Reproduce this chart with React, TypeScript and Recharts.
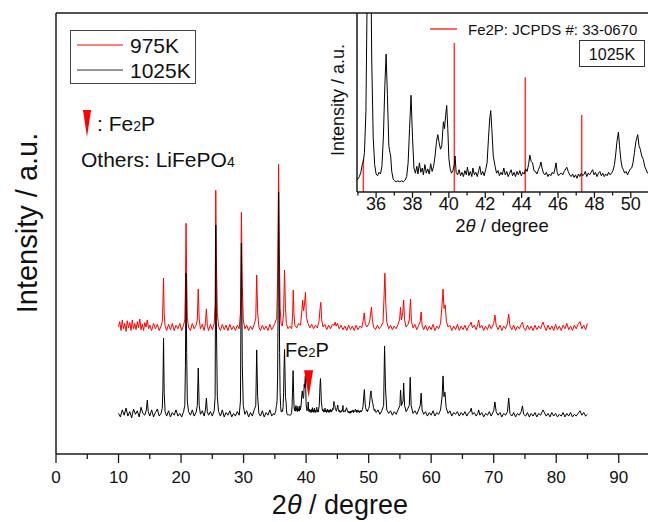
import { LineChart, Line, XAxis, YAxis, ReferenceLine, ReferenceDot } from "recharts";

// 2theta (deg), intensity (a.u.)
const K975: [number, number][] = [
  [10.0, 88], [10.2, 100], [10.4, 80], [10.6, 104], [10.8, 84], [11.0, 96], [11.2, 78], [11.4, 102], [11.6, 86], [11.8, 98],
  [12.0, 80], [12.2, 104], [12.4, 84], [12.6, 96], [12.8, 82], [13.0, 100], [13.2, 86], [13.4, 106], [13.6, 82], [13.8, 94],
  [14.0, 80], [14.2, 98], [14.4, 88], [14.6, 104], [14.8, 84], [15.0, 92], [15.3, 80], [15.6, 96], [15.9, 84], [16.2, 94],
  [16.5, 80], [16.8, 90], [17.0, 100], [17.1, 140], [17.2, 199], [17.3, 120], [17.45, 90], [17.7, 80], [18.0, 94], [18.3, 82],
  [18.6, 96], [18.9, 80], [19.2, 92], [19.5, 84], [19.8, 96], [20.1, 80], [20.4, 92], [20.6, 104], [20.7, 180], [20.8, 323],
  [20.9, 200], [21.0, 110], [21.2, 88], [21.5, 80], [21.8, 96], [22.1, 84], [22.4, 92], [22.6, 104], [22.75, 174], [22.9, 106],
  [23.1, 84], [23.4, 94], [23.7, 80], [23.9, 96], [24.05, 129], [24.2, 92], [24.4, 80], [24.7, 94], [25.0, 82], [25.3, 96],
  [25.45, 140], [25.55, 398], [25.65, 240], [25.8, 120], [26.0, 90], [26.3, 80], [26.6, 94], [26.9, 82], [27.2, 92], [27.5, 80],
  [27.8, 94], [28.1, 82], [28.4, 90], [28.7, 80], [29.0, 92], [29.3, 84], [29.5, 120], [29.65, 348], [29.8, 180], [29.95, 104],
  [30.2, 84], [30.5, 92], [30.8, 80], [31.1, 90], [31.4, 82], [31.7, 94], [31.95, 108], [32.1, 206], [32.25, 120], [32.45, 88],
  [32.7, 80], [33.0, 92], [33.3, 82], [33.6, 90], [33.9, 80], [34.2, 94], [34.5, 82], [34.8, 90], [35.0, 96], [35.3, 108],
  [35.45, 200], [35.6, 457], [35.72, 260], [35.85, 130], [36.0, 96], [36.2, 90], [36.4, 120], [36.55, 217], [36.7, 130], [36.85, 96],
  [37.1, 84], [37.4, 90], [37.7, 84], [37.85, 120], [37.95, 172], [38.05, 120], [38.2, 92], [38.5, 86], [38.8, 96], [39.1, 92],
  [39.3, 120], [39.45, 149], [39.6, 125], [39.75, 140], [39.9, 167], [40.05, 110], [40.3, 96], [40.6, 86], [40.9, 94], [41.2, 84],
  [41.5, 92], [41.8, 86], [42.05, 100], [42.2, 125], [42.35, 144], [42.5, 104], [42.7, 88], [43.0, 94], [43.3, 82], [43.6, 92],
  [43.9, 84], [44.2, 94], [44.5, 92], [44.65, 99], [44.8, 90], [45.0, 96], [45.3, 84], [45.6, 92], [45.9, 82], [46.2, 90],
  [46.5, 80], [46.8, 92], [47.1, 82], [47.4, 90], [47.7, 80], [48.0, 92], [48.3, 82], [48.6, 90], [48.9, 86], [49.1, 100],
  [49.3, 120], [49.45, 96], [49.7, 88], [50.0, 94], [50.2, 104], [50.45, 133], [50.6, 104], [50.8, 88], [51.1, 82], [51.4, 92],
  [51.7, 84], [52.0, 90], [52.3, 98], [52.45, 150], [52.6, 210], [52.75, 140], [52.9, 100], [53.2, 84], [53.5, 92], [53.8, 82],
  [54.1, 90], [54.4, 84], [54.7, 94], [54.95, 104], [55.1, 133], [55.25, 104], [55.45, 120], [55.6, 149], [55.75, 104], [56.0, 88],
  [56.3, 94], [56.5, 104], [56.7, 151], [56.85, 100], [57.1, 86], [57.4, 94], [57.7, 82], [58.0, 92], [58.25, 100], [58.4, 122],
  [58.55, 92], [58.8, 82], [59.1, 92], [59.4, 80], [59.7, 90], [60.0, 82], [60.3, 94], [60.6, 80], [60.9, 90], [61.2, 84],
  [61.5, 96], [61.75, 140], [61.9, 174], [62.05, 130], [62.25, 138], [62.45, 100], [62.7, 88], [63.0, 92], [63.3, 80], [63.6, 90],
  [63.9, 82], [64.2, 94], [64.5, 80], [64.8, 90], [65.1, 82], [65.4, 92], [65.7, 80], [66.0, 90], [66.25, 94], [66.4, 99],
  [66.6, 86], [66.9, 92], [67.2, 82], [67.45, 94], [67.6, 104], [67.8, 86], [68.1, 92], [68.4, 80], [68.7, 90], [69.0, 82],
  [69.3, 94], [69.6, 84], [70.0, 96], [70.2, 115], [70.4, 92], [70.7, 82], [71.0, 92], [71.3, 80], [71.6, 90], [71.9, 84],
  [72.2, 96], [72.4, 117], [72.6, 90], [72.9, 82], [73.2, 92], [73.5, 80], [73.8, 90], [74.1, 84], [74.4, 94], [74.6, 99],
  [74.8, 86], [75.1, 80], [75.4, 92], [75.7, 82], [76.0, 90], [76.3, 80], [76.6, 92], [76.9, 82], [77.2, 90], [77.5, 84],
  [77.75, 94], [77.9, 99], [78.1, 90], [78.4, 80], [78.7, 92], [79.0, 82], [79.3, 90], [79.6, 80], [79.9, 94], [80.2, 82],
  [80.5, 90], [80.8, 80], [81.1, 92], [81.4, 84], [81.7, 96], [82.0, 82], [82.3, 90], [82.6, 80], [82.9, 92], [83.2, 84],
  [83.5, 94], [83.8, 100], [84.1, 84], [84.4, 92], [84.7, 82], [85.0, 96],
];

const K1025: [number, number][] = [
  [10.0, 92], [10.3, 84], [10.6, 100], [10.9, 88], [11.2, 104], [11.5, 86], [11.8, 96], [12.1, 82], [12.4, 102], [12.7, 90],
  [13.0, 98], [13.3, 84], [13.6, 106], [13.9, 92], [14.2, 88], [14.45, 100], [14.6, 122], [14.75, 96], [15.0, 86], [15.3, 100],
  [15.6, 84], [15.9, 94], [16.2, 102], [16.5, 86], [16.8, 92], [17.0, 104], [17.1, 150], [17.2, 263], [17.3, 140], [17.45, 96],
  [17.7, 86], [18.0, 98], [18.3, 84], [18.6, 94], [18.9, 88], [19.2, 100], [19.5, 86], [19.8, 92], [20.1, 84], [20.4, 96],
  [20.6, 110], [20.7, 200], [20.8, 410], [20.9, 230], [21.0, 120], [21.2, 96], [21.5, 88], [21.8, 100], [22.1, 86], [22.4, 94],
  [22.6, 110], [22.75, 195], [22.9, 110], [23.1, 90], [23.4, 98], [23.7, 86], [23.9, 100], [24.05, 127], [24.2, 96], [24.4, 88],
  [24.7, 96], [25.0, 86], [25.3, 98], [25.45, 130], [25.55, 519], [25.65, 300], [25.8, 130], [26.0, 96], [26.3, 86], [26.6, 100],
  [26.9, 84], [27.2, 94], [27.5, 88], [27.8, 98], [28.1, 84], [28.4, 92], [28.7, 86], [29.0, 96], [29.3, 88], [29.5, 120],
  [29.65, 478], [29.8, 200], [29.95, 110], [30.2, 90], [30.5, 98], [30.8, 84], [31.1, 94], [31.4, 86], [31.7, 100], [31.95, 110],
  [32.1, 236], [32.25, 130], [32.45, 92], [32.7, 86], [33.0, 98], [33.3, 84], [33.6, 94], [33.9, 88], [34.2, 100], [34.5, 86],
  [34.8, 92], [34.9, 89], [35.0, 91], [35.08, 94], [35.16, 99], [35.24, 108], [35.3, 112], [35.36, 122], [35.44, 170], [35.52, 330],
  [35.6, 594], [35.68, 420], [35.76, 230], [35.84, 140], [35.92, 108], [36.0, 97], [36.08, 95], [36.16, 99], [36.24, 97], [36.32, 106],
  [36.4, 140], [36.48, 200], [36.55, 237], [36.62, 190], [36.7, 130], [36.76, 122], [36.8, 118], [36.86, 100], [36.94, 91], [37.02, 89],
  [37.1, 88], [37.2, 89], [37.3, 88], [37.4, 89], [37.5, 88], [37.6, 90], [37.68, 94], [37.76, 110], [37.84, 150], [37.92, 189],
  [38.0, 140], [38.08, 104], [38.16, 98], [38.24, 106], [38.3, 97], [38.38, 110], [38.46, 99], [38.54, 104], [38.6, 96], [38.68, 108],
  [38.76, 98], [38.84, 103], [38.92, 97], [39.0, 109], [39.08, 100], [39.16, 106], [39.24, 118], [39.32, 135], [39.39, 143], [39.46, 134],
  [39.54, 126], [39.61, 130], [39.7, 158], [39.76, 150], [39.82, 165], [39.88, 177], [39.94, 150], [40.0, 115], [40.07, 103], [40.14, 98],
  [40.22, 101], [40.3, 108], [40.34, 118], [40.4, 99], [40.48, 96], [40.56, 102], [40.64, 95], [40.72, 99], [40.8, 94], [40.88, 101],
  [40.96, 96], [41.02, 105], [41.1, 95], [41.18, 100], [41.26, 94], [41.32, 104], [41.4, 96], [41.48, 99], [41.56, 94], [41.64, 101],
  [41.7, 106], [41.78, 96], [41.86, 100], [41.94, 95], [42.02, 102], [42.1, 110], [42.18, 140], [42.24, 160], [42.3, 171], [42.36, 150],
  [42.44, 118], [42.54, 106], [42.62, 98], [42.7, 101], [42.78, 95], [42.86, 99], [42.94, 96], [43.02, 104], [43.1, 96], [43.18, 100],
  [43.26, 94], [43.34, 98], [43.42, 102], [43.5, 95], [43.58, 99], [43.66, 94], [43.74, 100], [43.82, 96], [43.9, 101], [43.98, 95],
  [44.06, 99], [44.14, 97], [44.22, 103], [44.3, 100], [44.38, 108], [44.45, 119], [44.52, 112], [44.6, 110], [44.68, 101], [44.76, 100],
  [44.84, 97], [44.92, 102], [45.0, 106], [45.06, 111], [45.12, 104], [45.2, 98], [45.28, 96], [45.36, 99], [45.44, 94], [45.52, 97],
  [45.6, 95], [45.68, 99], [45.76, 97], [45.84, 104], [45.89, 110], [45.95, 99], [46.02, 95], [46.1, 97], [46.18, 98], [46.26, 96],
  [46.34, 100], [46.42, 103], [46.48, 105], [46.56, 100], [46.64, 96], [46.72, 94], [46.8, 97], [46.88, 93], [46.96, 96], [47.04, 92],
  [47.12, 97], [47.2, 94], [47.28, 98], [47.36, 95], [47.44, 97], [47.5, 100], [47.58, 94], [47.66, 98], [47.74, 96], [47.82, 99],
  [47.9, 102], [47.98, 96], [48.06, 99], [48.14, 94], [48.22, 98], [48.3, 100], [48.38, 95], [48.46, 98], [48.54, 94], [48.62, 97],
  [48.7, 95], [48.78, 99], [48.86, 96], [48.94, 98], [49.02, 101], [49.1, 108], [49.16, 118], [49.24, 135], [49.32, 146], [49.38, 130],
  [49.45, 114], [49.52, 105], [49.59, 102], [49.66, 98], [49.74, 100], [49.82, 96], [49.9, 100], [49.98, 103], [50.05, 104], [50.12, 110],
  [50.2, 122], [50.28, 135], [50.38, 143], [50.45, 130], [50.52, 126], [50.6, 118], [50.69, 114], [50.76, 106], [50.84, 102], [50.92, 98],
  [51.0, 101], [51.1, 96], [51.2, 94], [51.5, 100],
  [51.8, 90], [52.1, 98], [52.4, 110], [52.55, 245], [52.7, 150], [52.9, 100], [53.2, 92], [53.5, 98], [53.8, 88], [54.1, 96],
  [54.4, 90], [54.7, 100], [55.0, 110], [55.1, 145], [55.25, 110], [55.5, 120], [55.6, 161], [55.75, 110], [56.0, 96], [56.3, 104],
  [56.5, 110], [56.65, 174], [56.8, 110], [57.1, 92], [57.4, 98], [57.7, 90], [58.0, 100], [58.25, 110], [58.4, 138], [58.55, 100],
  [58.8, 90], [59.1, 96], [59.4, 86], [59.7, 94], [60.0, 88], [60.3, 98], [60.6, 86], [60.9, 94], [61.2, 90], [61.5, 100],
  [61.75, 130], [61.9, 177], [62.05, 130], [62.2, 140], [62.4, 105], [62.7, 92], [63.0, 98], [63.3, 86], [63.6, 94], [63.9, 90],
  [64.2, 96], [64.5, 86], [64.8, 94], [65.1, 88], [65.4, 96], [65.7, 86], [66.0, 94], [66.25, 96], [66.4, 104], [66.6, 90],
  [66.9, 94], [67.2, 86], [67.45, 92], [67.6, 100], [67.8, 88], [68.1, 94], [68.4, 84], [68.7, 92], [69.0, 88], [69.3, 96],
  [69.6, 86], [70.0, 98], [70.2, 118], [70.4, 96], [70.7, 88], [71.0, 94], [71.3, 84], [71.6, 92], [71.9, 88], [72.2, 96],
  [72.4, 127], [72.6, 92], [72.9, 86], [73.2, 94], [73.5, 84], [73.8, 92], [74.1, 88], [74.4, 96], [74.6, 109], [74.8, 90],
  [75.1, 86], [75.4, 94], [75.7, 84], [76.0, 92], [76.3, 86], [76.6, 94], [76.9, 84], [77.2, 92], [77.5, 88], [77.75, 96],
  [77.9, 100], [78.1, 94], [78.4, 86], [78.7, 92], [79.0, 84], [79.3, 94], [79.6, 86], [79.9, 92], [80.2, 84], [80.5, 90],
  [80.8, 86], [81.1, 94], [81.4, 84], [81.7, 92], [82.0, 86], [82.3, 94], [82.6, 84], [82.9, 90], [83.2, 86], [83.5, 92],
  [83.8, 98], [84.1, 88], [84.4, 94], [84.7, 86], [85.0, 90],
];

// red curve is shifted up for display
const K975_OFFSET = 200;

// Fe2P reference lines, JCPDS 33-0670 (relative heights)
const FE2P_POS = [35.3, 40.3, 44.2, 47.3];
const FE2P_INT = [114, 250, 210, 166];

const MAIN_TICKS = [0, 5, 10, 15, 20, 25, 30, 35, 40, 45, 50, 55, 60, 65, 70, 75, 80, 85, 90, 95];
const INSET_TICKS = [35, 36, 37, 38, 39, 40, 41, 42, 43, 44, 45, 46, 47, 48, 49, 50, 51];

const FONT = "'Liberation Sans', Arial, sans-serif";
const RED = "#ff0000";
const AXIS = "#1a1a1a";

const red = K975.map(([x, y]) => ({ x, y: y + K975_OFFSET }));
const black = K1025.map(([x, y]) => ({ x, y }));

const makeTick = (every: number, majorLen: number, minorLen: number, fontSize: number, dy: number) => (props: any) => {
  const { x, y, payload } = props;
  const v = payload.value;
  const major = Math.abs(v / every - Math.round(v / every)) < 1e-6;
  return (
    <g>
      <line x1={x} x2={x} y1={y} y2={y + (major ? majorLen : minorLen)} stroke={AXIS} strokeWidth={1.3} />
      {major && (
        <text x={x} y={y + dy} textAnchor="middle" dominantBaseline="central" fontSize={fontSize} fontFamily={FONT} fill="#111">
          {v}
        </text>
      )}
    </g>
  );
};

const Triangle = (props: any) => {
  const { cx, cy } = props;
  return <path d={`M${cx - 4.5},${cy} L${cx + 4.5},${cy} L${cx},${cy + 27} Z`} fill={RED} />;
};

export default function App() {
  return (
    <div style={{ position: "fixed", left: 0, top: 0, width: 648, height: 522, overflow: "hidden", background: "#fff" }}>
      <div style={{ position: "absolute", left: 0, top: 0 }}>
        <LineChart width={680} height={522} margin={{ top: 13, left: 56, right: 30, bottom: 38 }}>
          <XAxis
            dataKey="x"
            type="number"
            domain={[0, 95]}
            ticks={MAIN_TICKS}
            interval={0}
            height={30}
            tickSize={0}
            tickMargin={0}
            tickLine={false}
            axisLine={{ stroke: AXIS, strokeWidth: 1.5 }}
            tick={makeTick(10, 9, 5, 17, 23)}
            allowDataOverflow
          />
          <YAxis hide width={0} type="number" domain={[0, 1000]} allowDataOverflow />
          <ReferenceLine x={0} stroke={AXIS} strokeWidth={1.5} />
          <ReferenceLine y={1000} stroke={AXIS} strokeWidth={1.5} />
          <Line data={red} dataKey="y" stroke={RED} strokeWidth={1} dot={false} isAnimationActive={false} />
          <Line data={black} dataKey="y" stroke="#000" strokeWidth={1} dot={false} isAnimationActive={false} />
          <ReferenceDot x={40.4} y={190} shape={Triangle} />
        </LineChart>
      </div>

      <div style={{ position: "absolute", left: 0, top: 0 }}>
        <LineChart width={680} height={260} margin={{ top: 13, left: 357, right: 31, bottom: 38 }}>
          <XAxis
            dataKey="x"
            type="number"
            domain={[34.95, 51]}
            ticks={INSET_TICKS}
            interval={0}
            height={30}
            tickSize={0}
            tickMargin={0}
            tickLine={false}
            axisLine={{ stroke: AXIS, strokeWidth: 1.5 }}
            tick={makeTick(2, 6, 3.5, 18, 12)}
            allowDataOverflow
          />
          <YAxis hide width={0} type="number" domain={[76, 285]} allowDataOverflow />
          <ReferenceLine x={34.95} stroke={AXIS} strokeWidth={1.5} />
          {FE2P_POS.map((p, i) => (
            <ReferenceLine
              key={p}
              segment={[{ x: p, y: 76 }, { x: p, y: FE2P_INT[i] }]}
              stroke="#ff3333"
              strokeWidth={1.5}
            />
          ))}
          <Line data={black} dataKey="y" stroke="#000" strokeWidth={1} dot={false} isAnimationActive={false} />
        </LineChart>
      </div>

      <svg width={648} height={522} style={{ position: "absolute", left: 0, top: 0, pointerEvents: "none" }} fontFamily={FONT}>
        {/* main axis titles */}
        <text x={340} y={514} textAnchor="middle" fontSize={27} fill="#111">
          2<tspan fontStyle="italic">θ</tspan> / degree
        </text>
        <text transform="translate(27,223) rotate(-90)" textAnchor="middle" dominantBaseline="central" fontSize={29} fill="#111">
          Intensity / a.u.
        </text>

        {/* legend */}
        <rect x={70.5} y={30.5} width={125} height={53} fill="none" stroke="#444" strokeWidth={1} />
        <line x1={77} x2={123} y1={45} y2={45} stroke={RED} strokeWidth={1} />
        <line x1={77} x2={123} y1={70} y2={70} stroke="#333" strokeWidth={1} />
        <text x={130} y={45} dominantBaseline="central" fontSize={21} fill="#111">975K</text>
        <text x={130} y={70} dominantBaseline="central" fontSize={21} fill="#111">1025K</text>

        <path d="M83,110 L91,110 L87,137 Z" fill={RED} />
        <text x={97} y={130.5} fontSize={21} fill="#111">
          : Fe<tspan fontSize={14}>2</tspan>P
        </text>
        <text x={81} y={166.5} fontSize={21} fill="#111">
          Others: LiFePO<tspan fontSize={14}>4</tspan>
        </text>

        <text x={285} y={357} fontSize={20} fill="#111">
          Fe<tspan fontSize={13}>2</tspan>P
        </text>

        {/* inset titles and legend */}
        <text x={502} y={232} textAnchor="middle" fontSize={18.5} fill="#111">
          2<tspan fontStyle="italic">θ</tspan> / degree
        </text>
        <text transform="translate(338,100) rotate(-90)" textAnchor="middle" dominantBaseline="central" fontSize={18} fill="#111">
          Intensity / a.u.
        </text>
        <line x1={430} x2={457} y1={29} y2={29} stroke="#ff3333" strokeWidth={1.5} />
        <text x={468} y={29} dominantBaseline="central" fontSize={15} fill="#111">Fe2P: JCPDS #: 33-0670</text>
        <rect x={579.5} y={40.5} width={65} height={26} fill="none" stroke="#333" strokeWidth={1} />
        <text x={612} y={54} textAnchor="middle" dominantBaseline="central" fontSize={16} fill="#111">1025K</text>
      </svg>
    </div>
  );
}
